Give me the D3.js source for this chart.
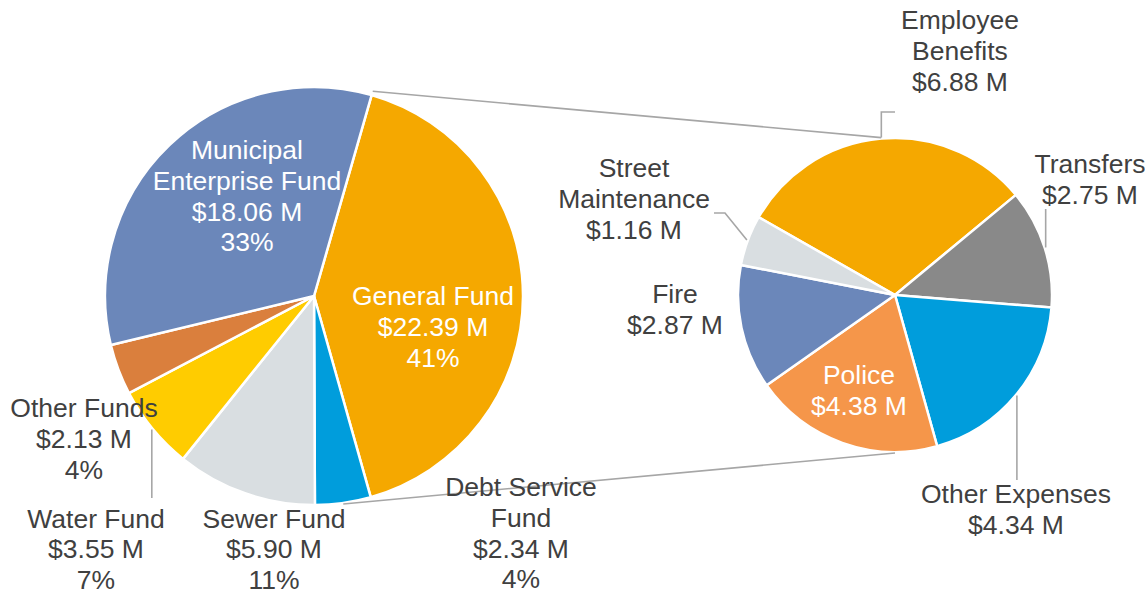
<!DOCTYPE html>
<html>
<head>
<meta charset="utf-8">
<script src="https://cdn.jsdelivr.net/npm/d3@7"></script>
<style>
  body { margin: 0; background: #fff; }
  text { font-family: "Liberation Sans", Arial, sans-serif; }
</style>
</head>
<body>
<div id="chart"></div>
<script>
// primary pie: all funds (clockwise from General Fund)
const fundNames = [["General Fund"], ["Debt Service", "Fund"], ["Sewer Fund"], ["Water Fund"], ["Other Funds"], ["Municipal", "Enterprise Fund"]];
const fundValues = [22.39, 2.34, 5.9, 3.55, 2.13, 18.06];

// secondary pie: General Fund breakdown
const gfNames = [["Employee", "Benefits"], ["Transfers"], ["Other Expenses"], ["Police"], ["Fire"], ["Street", "Maintenance"]];
const gfValues = [6.88, 2.75, 4.34, 4.38, 2.87, 1.16];

const fundColors = ["#F5A800", "#009DDC", "#D9DEE1", "#FFCC00", "#DA7F3D", "#6B87BA"];
const gfColors = ["#F5A800", "#898989", "#009DDC", "#F5964A", "#6B87BA", "#D9DEE1"];

const width = 1145;
const height = 595;
const lineH = 30.8;
const fontSize = 26.5;
const textColor = "#404040";
const lineColor = "#A6A6A6";

// pie geometry
const left = { cx: 314, cy: 296, r: 209, start: 16 };
const right = { cx: 895, cy: 295, r: 157, start: -60.3 };

// label anchors: centre x, first baseline, text colour, leader type
const fundLabels = [
  { x: 433, y: 305, fill: "#fff" },
  { x: 521, y: 496 },
  { x: 274, y: 527.5 },
  { x: 96, y: 527.5, leader: "down", to: 498 },
  { x: 84, y: 417 },
  { x: 247, y: 159, fill: "#fff" },
];
const gfLabels = [
  { x: 960, y: 29, leader: "elbowUp", to: 112, end: 895 },
  { x: 1090, y: 173, leader: "up", to: 209 },
  { x: 1016, y: 503, leader: "down", to: 480 },
  { x: 859, y: 384, fill: "#fff" },
  { x: 675, y: 303 },
  { x: 634, y: 177, leader: "diag", elbow: [725, 213], end: 714 },
];

const fmtMoney = (v) => "$" + d3.format(".2f")(v) + " M";
const fmtPct = d3.format(".0%");

const svg = d3
  .select("#chart")
  .append("svg")
  .attr("width", width)
  .attr("height", height);

const rad = (deg) => (deg * Math.PI) / 180;
// point on circle, angle measured clockwise from 12 o'clock (radians)
const polar = (p, a, r) => [p.cx + r * Math.sin(a), p.cy - r * Math.cos(a)];

function drawPie(p, values, colors) {
  const pie = d3.pie().sort(null).startAngle(rad(p.start)).endAngle(rad(p.start) + 2 * Math.PI);
  const arcs = pie(values);
  const arc = d3.arc().innerRadius(0).outerRadius(p.r);
  svg
    .append("g")
    .attr("transform", `translate(${p.cx},${p.cy})`)
    .selectAll("path")
    .data(arcs)
    .enter()
    .append("path")
    .attr("d", arc)
    .attr("fill", (d, i) => colors[i])
    .attr("stroke", "#fff")
    .attr("stroke-width", 2.5)
    .attr("stroke-linejoin", "round");
  return arcs;
}

const fundArcs = drawPie(left, fundValues, fundColors);
const gfArcs = drawPie(right, gfValues, gfColors);

// connector lines between the General Fund slice and the breakdown pie
const gf = fundArcs[0];
const debt = fundArcs[1];
const connectors = [
  [polar(left, gf.startAngle, left.r + 4), polar(right, rad(-5), right.r + 1)],
  [polar(left, (debt.startAngle + debt.endAngle) / 2, left.r + 1), polar(right, rad(180), right.r + 1)],
];
svg
  .selectAll(".connector")
  .data(connectors)
  .enter()
  .append("line")
  .attr("class", "connector")
  .attr("x1", (d) => d[0][0])
  .attr("y1", (d) => d[0][1])
  .attr("x2", (d) => d[1][0])
  .attr("y2", (d) => d[1][1])
  .attr("stroke", lineColor)
  .attr("stroke-width", 1.6);

function leaderPath(p, a, lab) {
  const mid = (a.startAngle + a.endAngle) / 2;
  const s = polar(p, mid, p.r + 1);
  if (lab.leader === "down" || lab.leader === "up") {
    return d3.line()([s, [s[0], lab.to]]);
  }
  if (lab.leader === "elbowUp") {
    return d3.line()([s, [s[0], lab.to], [lab.end, lab.to]]);
  }
  if (lab.leader === "diag") {
    return d3.line()([s, lab.elbow, [lab.end, lab.elbow[1]]]);
  }
  return null;
}

function drawLabels(p, arcs, names, labels, total, withPct) {
  arcs.forEach((a, i) => {
    const lab = labels[i];
    const path = leaderPath(p, a, lab);
    if (path) {
      svg
        .append("path")
        .attr("d", path)
        .attr("fill", "none")
        .attr("stroke", lineColor)
        .attr("stroke-width", 1.6);
    }
    const lines = names[i].concat([fmtMoney(a.data)]);
    if (withPct) lines.push(fmtPct(a.data / total));
    svg
      .append("text")
      .attr("text-anchor", "middle")
      .attr("font-size", fontSize)
      .attr("fill", lab.fill || textColor)
      .selectAll("tspan")
      .data(lines)
      .enter()
      .append("tspan")
      .attr("x", lab.x)
      .attr("y", (d, j) => lab.y + j * lineH)
      .text((d) => d);
  });
}

drawLabels(left, fundArcs, fundNames, fundLabels, d3.sum(fundValues), true);
drawLabels(right, gfArcs, gfNames, gfLabels, d3.sum(gfValues), false);
</script>
</body>
</html>
